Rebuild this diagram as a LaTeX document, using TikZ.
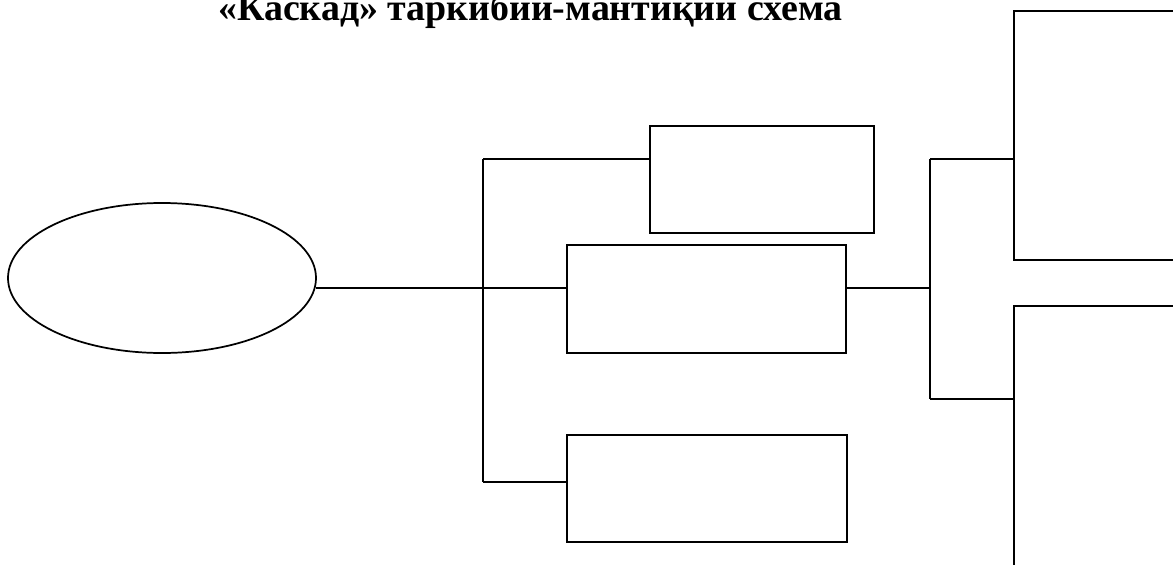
\documentclass[tikz,border=0pt]{standalone}
\usepackage{fontspec}
\setmainfont{Liberation Serif}
\usetikzlibrary{shapes.geometric}

\tikzset{
  blk/.style={draw, line width=1.5pt, rectangle, inner sep=0pt, outer sep=0pt},
  oval/.style={draw, line width=1.3pt, ellipse, inner sep=0pt, outer sep=0pt},
  wire/.style={line width=1.5pt},
  heading/.style={font=\fontsize{28.4}{34}\selectfont\bfseries, inner sep=0pt}
}

\begin{document}
\begin{tikzpicture}[x=0.75pt,y=0.75pt,yscale=-1,xscale=1]
    \useasboundingbox (0,0) rectangle (1173,564);

    % Text Node
    \node [heading, anchor=base west] (ttl) at (218,20) {«Каскад» таркибий-мантиқий схема};

    %Shape: Ellipse
    \node [oval, minimum width=231pt, minimum height=112.5pt] (ell) at (162,278) {};

    %Shape: Rectangles
    \node [blk, minimum width=168pt, minimum height=80.25pt] (boxa) at (762,179.5) {};
    \node [blk, minimum width=209.25pt, minimum height=81pt] (boxb) at (706.5,299) {};
    \node [blk, minimum width=210pt, minimum height=80.25pt] (boxc) at (707,488.5) {};
    \node [blk, minimum width=184.5pt, minimum height=186.75pt] (boxd) at (1137,135.5) {};
    \node [blk, minimum width=184.5pt, minimum height=295.5pt] (boxe) at (1137,503) {};

    % bus joints
    \coordinate (bus1t) at (483,159);
    \coordinate (bus1m) at (483,288);
    \coordinate (bus1b) at (483,482);
    \coordinate (bus2t) at (930,159);
    \coordinate (bus2m) at (930,288);
    \coordinate (bus2b) at (930,399);

    %Straight Lines
    \draw [wire] (bus1m -| ell.east) -- (bus1m) -- (bus1m -| boxb.west);
    \draw [wire] (bus1t) -- (bus1b);
    \draw [wire] (bus1t) -- (bus1t -| boxa.west);
    \draw [wire] (bus1b) -- (bus1b -| boxc.west);
    \draw [wire] (bus2m -| boxb.east) -- (bus2m);
    \draw [wire] (bus2t) -- (bus2b);
    \draw [wire] (bus2t) -- (bus2t -| boxd.west);
    \draw [wire] (bus2b) -- (bus2b -| boxe.west);
\end{tikzpicture}
\end{document}
